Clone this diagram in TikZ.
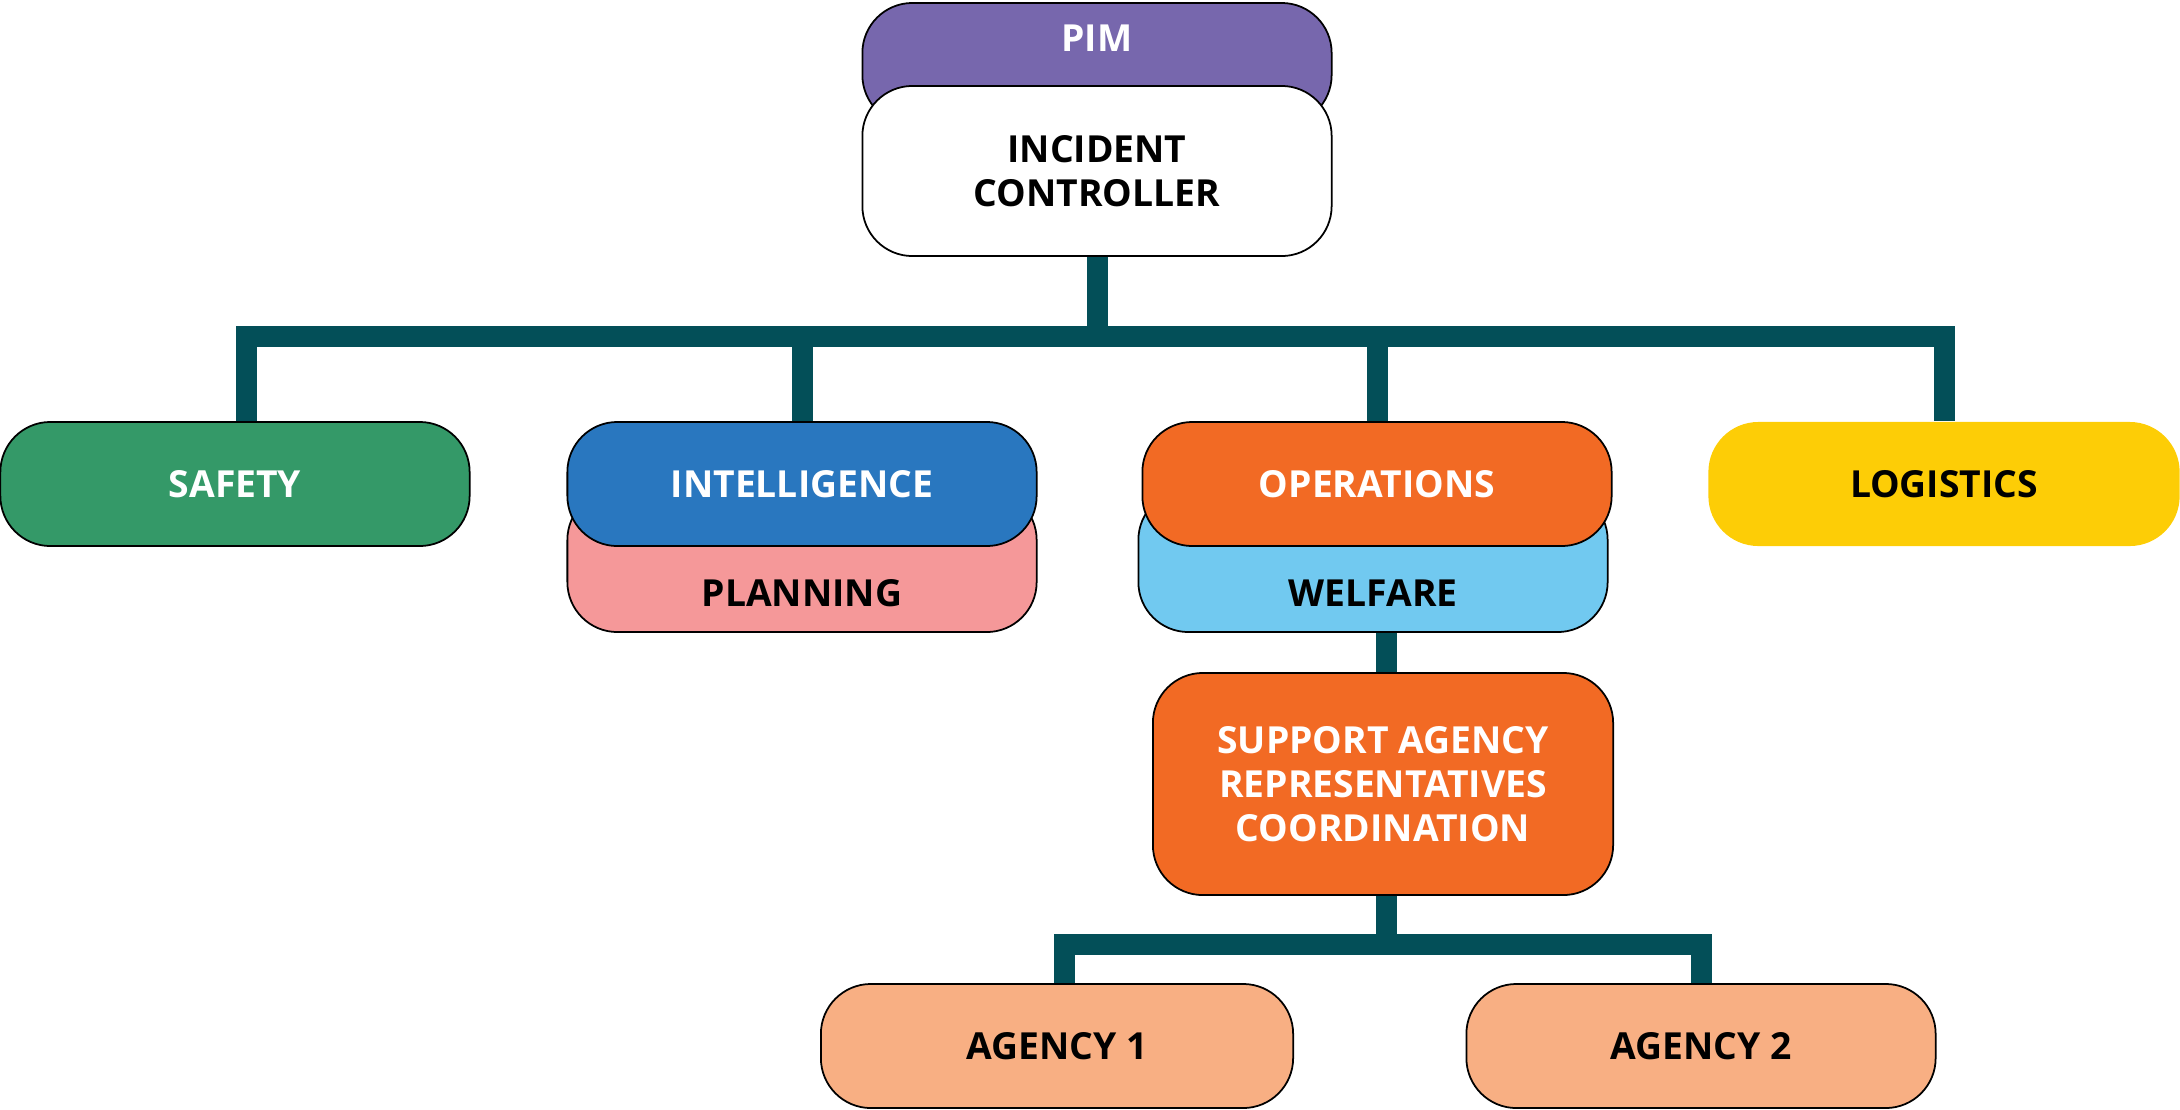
\documentclass[tikz,border=0pt]{standalone}
\usepackage{fontspec}
\setmainfont{Open Sans}
\usepackage{tikz}

\definecolor{pimpurple}{HTML}{7767AD}
\definecolor{safegreen}{HTML}{349968}
\definecolor{intelblue}{HTML}{2977BF}
\definecolor{planpink}{HTML}{F59899}
\definecolor{opsorange}{HTML}{F26A24}
\definecolor{welfblue}{HTML}{71C9F0}
\definecolor{logyellow}{HTML}{FDCD06}
\definecolor{agencypeach}{HTML}{F8AF83}
\definecolor{linkteal}{HTML}{034F58}

\begin{document}
\begin{tikzpicture}[x=0.01cm,y=-0.01cm,
		boxtext/.style={font=\fontsize{10.6}{12.5}\selectfont\bfseries},
		orgbox/.style={boxtext,draw=black,line width=0.5pt,rounded corners=0.5cm,
			minimum width=4.69cm,minimum height=1.24cm,align=center,inner sep=0pt},
		link/.style={draw=linkteal,line width=0.21cm,line join=miter}]
		% The frame
		\useasboundingbox (0,0) rectangle (2180,1109);
		
		% Top of the tree
		\node[orgbox,fill=pimpurple,minimum height=1.22cm,
			label={[boxtext,text=white,yshift=0.26cm]center:PIM}] (pim) at (1097,64) {};
		\node[orgbox,fill=white,minimum height=1.70cm] (ic) at (1097,171) {INCIDENT\\CONTROLLER};
		
		% The four sections
		\node[orgbox,fill=safegreen,text=white] (safety) at (235,484) {SAFETY};
		\node[orgbox,fill=planpink,minimum height=1.42cm,
			label={[boxtext,yshift=-0.325cm]center:PLANNING}] (plan) at (802,561) {};
		\node[orgbox,fill=intelblue,text=white] (intel) at (802,484) {INTELLIGENCE};
		\node[orgbox,fill=welfblue,minimum height=1.42cm,
			label={[boxtext,yshift=-0.325cm]center:WELFARE}] (welfare) at (1373,561) {};
		\node[orgbox,fill=opsorange,text=white] (ops) at (1377,484) {OPERATIONS};
		\node[orgbox,draw=none,fill=logyellow,minimum width=4.71cm] (logistics) at (1944,484) {LOGISTICS};
		
		% Below welfare
		\node[orgbox,fill=opsorange,text=white,minimum width=4.60cm,minimum height=2.22cm]
			(sarc) at (1383,784) {SUPPORT AGENCY\\REPRESENTATIVES\\COORDINATION};
		\node[orgbox,fill=agencypeach,minimum width=4.72cm] (agency1) at (1057,1046) {AGENCY 1};
		\node[orgbox,fill=agencypeach] (agency2) at (1701,1046) {AGENCY 2};
		
		% The links
		\coordinate (bus) at (1095,336);
		\coordinate (subbus) at (1386,944);
		\draw[link] (ic.south) -- (ic.south |- bus);
		\draw[link] ([xshift=0.11cm]safety.north) |- (bus) -| (logistics.north);
		\draw[link] (intel.north) -- (intel.north |- bus);
		\draw[link] (ops.north) -- (ops.north |- bus);
		\draw[link] (welfare.south -| subbus) -- (sarc.north -| subbus);
		\draw[link] (sarc.south -| subbus) -- (subbus);
		\draw[link] ([xshift=0.07cm]agency1.north) |- (subbus) -| (agency2.north);
	\end{tikzpicture}
\end{document}
